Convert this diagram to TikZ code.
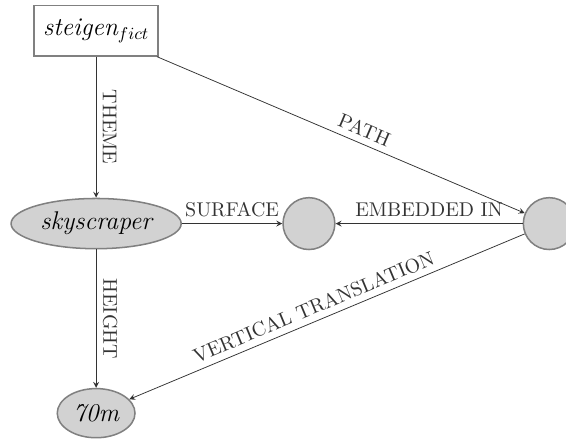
\documentclass[tikz,border=0pt]{standalone}
\usepackage{amsmath, amsfonts, amssymb}
\usepackage{fontspec}
\usepackage{tikz}
\usetikzlibrary{shapes.geometric, arrows}

\begin{document}
\begin{tikzpicture}[
        >=stealth,
        concept/.style={draw=gray, thick, fill=white, rectangle, minimum width=2.3cm, minimum height=0.93cm, font=\fontsize{13.5}{16}\selectfont\itshape},
        thing/.style={draw=gray, thick, fill=gray!35, ellipse, inner sep=1pt, font=\fontsize{13.5}{16}\selectfont\itshape},
        point/.style={draw=gray, thick, fill=gray!35, circle, minimum size=0.96cm, inner sep=0pt},
        rel/.style={->, black!80},
        lbl/.style={midway, sloped, above, font=\fontsize{10.5}{12}\selectfont}
    ]
    \useasboundingbox (0,0) rectangle (10.48,8.13);

    % Nodes
    \node[concept] (steigen) at (1.78,7.56) {steigen$_{fict}$};
    \node[thing, minimum width=3.15cm, minimum height=0.93cm] (sky) at (1.78,3.99) {skyscraper};
    \node[point] (surf) at (5.72,3.99) {};
    \node[point] (path) at (10.17,3.99) {};
    \node[thing, minimum width=1.44cm, minimum height=0.91cm] (height) at (1.78,0.48) {70m};

    % Relations
    \draw[rel] (steigen) -- node[lbl] {THEME} (sky);
    \draw[rel] (sky) -- node[lbl] {HEIGHT} (height);
    \draw[rel] (sky) -- node[lbl] {SURFACE} (surf);
    \draw[rel] (path) -- node[lbl] {EMBEDDED IN} (surf);
    \draw[rel] (steigen) -- node[lbl, pos=0.55] {PATH} (path);
    \draw[rel] (path) -- node[lbl, pos=0.52] {VERTICAL TRANSLATION} (height);
\end{tikzpicture}
\end{document}
